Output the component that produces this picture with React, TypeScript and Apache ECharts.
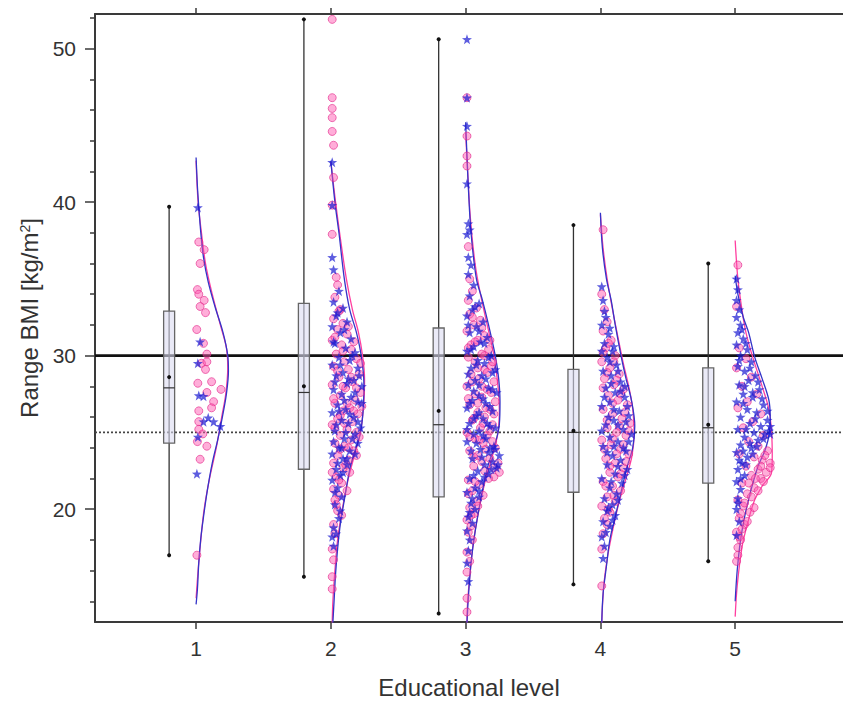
import React, { useEffect, useRef } from 'react';
import * as echarts from 'echarts';

// ---------- DATA ----------
const CATEGORIES = [1, 2, 3, 4, 5];
const X_TICKS = [1, 2, 3, 4, 5];
const Y_MAJOR_TICKS = [20, 30, 40, 50];
const Y_MINOR_TICKS = [14, 16, 18, 22, 24, 26, 28, 32, 34, 36, 38, 42, 44, 46, 48, 52];
const REF_SOLID = 30;
const REF_DOTTED = 25;

// box plot statistics per educational level
const BOX_MIN = [17.0, 15.6, 13.2, 15.1, 16.6];
const BOX_Q1 = [24.3, 22.6, 20.8, 21.1, 21.7];
const BOX_MEDIAN = [27.9, 27.6, 25.5, 25.0, 25.3];
const BOX_Q3 = [32.9, 33.4, 31.8, 29.1, 29.2];
const BOX_MAX = [39.7, 51.9, 50.6, 38.5, 36.0];
const BOX_MEAN = [28.6, 28.0, 26.4, 25.1, 25.5];

// scatter points: [offset from category, BMI range]
const PINK_G1 = [[0.02,37.4],[0.06,36.9],[0.03,36.0],[0.01,34.3],[0.02,34.0],[0.06,33.6],[0.03,33.2],[0.07,32.8],[0.005,31.7],[0.055,30.8],[0.08,30.1],[0.04,29.5],[0.08,29.6],[0.07,29.1],[0.013,28.2],[0.115,28.3],[0.185,27.8],[0.08,27.6],[0.13,27.0],[0.02,26.4],[0.115,26.6],[0.02,25.7],[0.02,25.2],[0.05,24.9],[0.01,24.4],[0.08,24.1],[0.03,23.25],[0.006,17.0]];
const BLUE_G1 = [[0.013,39.65],[0.03,30.9],[0.013,29.5],[0.02,27.4],[0.055,27.35],[0.055,25.7],[0.09,25.95],[0.13,25.7],[0.18,25.4],[0.013,24.7],[0.006,22.3]];

const PINK_G2 = [[0.01,51.9],[0.01,46.8],[0.01,46.1],[0.01,45.5],[0.01,44.6],[0.02,43.7],[0.02,41.6],[0.01,39.8],[0.01,37.9],[0.04,35.1],[0.05,34.6],[0.03,33.8],[0.07,33.0],[0.02,32.4],[0.09,32.1],[0.05,31.7],[0.12,31.4],[0.01,31.0],[0.08,30.7],[0.15,30.4],[0.04,30.1],[0.19,29.8],[0.10,29.6],[0.02,29.3],[0.13,29.1],[0.21,28.8],[0.06,28.6],[0.16,28.3],[0.01,28.1],[0.11,27.9],[0.22,27.6],[0.07,27.4],[0.18,27.1],[0.03,26.9],[0.14,26.6],[0.09,26.4],[0.20,26.2],[0.05,25.9],[0.16,25.7],[0.01,25.5],[0.12,25.2],[0.19,25.0],[0.07,24.8],[0.15,24.5],[0.03,24.3],[0.10,24.1],[0.17,23.8],[0.05,23.5],[0.13,23.2],[0.02,23.0],[0.09,22.7],[0.14,22.4],[0.04,22.1],[0.08,21.7],[0.02,21.3],[0.06,20.9],[0.03,20.6],[0.05,19.9],[0.02,19.0],[0.03,18.4],[0.01,17.4],[0.02,16.7],[0.01,15.6],[0.01,14.8],
  [0.06,32.9],[0.13,31.9],[0.03,31.2],[0.17,30.9],[0.09,30.3],[0.22,29.5],[0.05,29.0],[0.15,28.6],[0.09,28.0],[0.19,27.9],[0.02,27.2],[0.12,26.9],[0.23,26.7],[0.07,26.1],[0.17,26.4],[0.03,25.3],[0.10,25.6],[0.21,24.7],[0.13,24.0],[0.07,23.9],[0.19,23.5],[0.01,22.4],[0.11,22.9],[0.06,21.9],[0.12,21.2],[0.04,20.3],[0.08,19.6]];
const BLUE_G2 = [[0.01,42.6],[0.01,39.8],[0.01,36.4],[0.02,35.6],[0.06,34.2],[0.02,33.5],[0.09,33.1],[0.04,32.6],[0.12,32.2],[0.01,31.9],[0.07,31.5],[0.15,31.1],[0.03,30.8],[0.11,30.5],[0.18,30.2],[0.06,29.9],[0.14,29.7],[0.01,29.4],[0.20,29.2],[0.09,28.9],[0.04,28.7],[0.17,28.4],[0.12,28.2],[0.23,28.0],[0.02,27.8],[0.08,27.5],[0.15,27.3],[0.20,27.0],[0.05,26.8],[0.11,26.5],[0.01,26.3],[0.17,26.0],[0.08,25.8],[0.13,25.6],[0.22,25.3],[0.03,25.1],[0.18,24.9],[0.10,24.6],[0.20,24.3],[0.06,24.0],[0.14,23.8],[0.01,23.6],[0.09,23.3],[0.12,22.9],[0.04,22.6],[0.07,22.2],[0.01,21.9],[0.05,21.4],[0.08,20.8],[0.03,20.3],[0.06,19.4],[0.02,18.8],[0.01,18.2],[0.02,17.6],
  [0.05,32.8],[0.10,31.7],[0.02,30.9],[0.16,30.0],[0.07,29.4],[0.21,28.7],[0.13,28.5],[0.03,28.3],[0.18,27.6],[0.10,27.1],[0.23,26.9],[0.06,26.4],[0.14,26.2],[0.20,25.7],[0.04,25.5],[0.11,25.0],[0.16,24.6],[0.02,24.4],[0.08,24.0],[0.18,23.6],[0.12,23.3],[0.05,23.0],[0.09,22.4],[0.03,21.1],[0.07,19.9],[0.04,18.4]];

const PINK_G3 = [[0.01,46.8],[0.01,44.3],[0.01,43.0],[0.01,42.35],[0.02,37.1],[0.03,35.0],[0.05,34.2],[0.02,33.6],[0.08,33.1],[0.03,32.7],[0.11,32.3],[0.06,32.0],[0.01,31.6],[0.14,31.3],[0.09,31.0],[0.04,30.7],[0.17,30.4],[0.12,30.1],[0.02,29.9],[0.07,29.6],[0.19,29.3],[0.14,29.1],[0.04,28.8],[0.10,28.5],[0.21,28.3],[0.01,28.0],[0.16,27.8],[0.07,27.5],[0.12,27.3],[0.22,27.0],[0.03,26.8],[0.18,26.5],[0.09,26.3],[0.14,26.0],[0.05,25.8],[0.20,25.5],[0.11,25.3],[0.01,25.0],[0.16,24.8],[0.07,24.6],[0.13,24.3],[0.22,24.0],[0.03,23.8],[0.09,23.5],[0.18,23.3],[0.24,23.0],[0.06,22.8],[0.14,22.5],[0.21,22.1],[0.02,21.9],[0.10,21.6],[0.05,21.2],[0.13,20.9],[0.08,20.5],[0.03,20.1],[0.06,19.7],[0.01,19.3],[0.04,18.9],[0.02,18.5],[0.05,18.0],[0.01,17.2],[0.03,16.6],[0.01,15.9],[0.01,14.2],[0.01,13.3],
  [0.05,32.5],[0.12,31.8],[0.18,31.0],[0.07,30.9],[0.02,30.5],[0.14,30.0],[0.20,29.6],[0.09,29.2],[0.16,28.9],[0.05,28.3],[0.12,28.0],[0.19,27.6],[0.02,27.2],[0.09,26.9],[0.15,26.6],[0.21,26.2],[0.06,25.9],[0.13,25.6],[0.18,25.1],[0.03,24.7],[0.10,24.5],[0.20,24.4],[0.15,23.9],[0.06,23.4],[0.12,23.1],[0.21,22.7],[0.17,22.0],[0.25,22.4],[0.07,21.8],[0.02,21.0],[0.09,20.2],[0.04,19.6]];
const BLUE_G3 = [[0.01,50.6],[0.01,46.8],[0.01,44.95],[0.01,41.2],[0.02,38.6],[0.03,38.2],[0.01,37.9],[0.02,36.4],[0.04,35.9],[0.02,35.3],[0.06,34.6],[0.03,33.9],[0.10,33.4],[0.05,33.0],[0.01,32.6],[0.13,32.2],[0.08,31.9],[0.03,31.5],[0.16,31.2],[0.11,30.9],[0.06,30.6],[0.01,30.3],[0.19,30.0],[0.09,29.7],[0.14,29.5],[0.04,29.2],[0.20,28.9],[0.12,28.7],[0.07,28.4],[0.02,28.1],[0.17,27.9],[0.23,27.6],[0.10,27.4],[0.05,27.1],[0.15,26.9],[0.01,26.6],[0.20,26.4],[0.08,26.1],[0.13,25.9],[0.03,25.6],[0.18,25.4],[0.10,25.1],[0.06,24.9],[0.15,24.6],[0.01,24.4],[0.21,24.1],[0.11,23.9],[0.17,23.7],[0.25,23.5],[0.05,23.3],[0.20,23.1],[0.14,22.9],[0.23,22.7],[0.09,22.5],[0.17,22.3],[0.03,22.0],[0.12,21.8],[0.07,21.4],[0.01,21.1],[0.10,20.8],[0.04,20.4],[0.07,20.0],[0.02,19.5],[0.05,19.1],[0.01,18.6],[0.03,18.0],[0.02,17.3],[0.01,16.5],[0.02,15.3],
  [0.07,33.2],[0.02,32.0],[0.10,31.6],[0.14,30.8],[0.04,30.4],[0.17,29.9],[0.08,29.4],[0.22,29.1],[0.02,28.8],[0.15,28.5],[0.10,28.1],[0.20,27.8],[0.06,27.7],[0.13,27.2],[0.03,26.9],[0.18,26.7],[0.10,26.3],[0.06,25.9],[0.16,25.6],[0.22,25.3],[0.01,25.2],[0.13,24.8],[0.08,24.3],[0.18,24.0],[0.04,23.8],[0.22,23.9],[0.12,23.4],[0.24,22.9],[0.19,22.6],[0.06,22.2],[0.14,22.1],[0.10,21.2],[0.05,20.7],[0.03,19.8]];

const PINK_G4 = [[0.02,38.2],[0.01,34.0],[0.03,33.0],[0.05,32.2],[0.02,31.6],[0.08,31.0],[0.04,30.5],[0.11,30.0],[0.01,29.6],[0.07,29.2],[0.14,28.8],[0.03,28.5],[0.10,28.1],[0.17,27.8],[0.06,27.4],[0.13,27.1],[0.20,26.8],[0.02,26.5],[0.09,26.2],[0.16,25.9],[0.22,25.6],[0.05,25.3],[0.12,25.0],[0.19,24.8],[0.01,24.5],[0.08,24.2],[0.15,23.9],[0.21,23.6],[0.04,23.3],[0.11,23.0],[0.17,22.7],[0.07,22.4],[0.13,22.1],[0.02,21.8],[0.09,21.5],[0.15,21.2],[0.05,20.8],[0.11,20.5],[0.01,20.2],[0.07,19.8],[0.03,19.4],[0.05,19.0],[0.02,18.4],[0.01,17.4],[0.01,15.0],
  [0.06,30.8],[0.02,30.2],[0.10,29.6],[0.05,28.9],[0.12,28.4],[0.02,27.9],[0.15,27.5],[0.09,26.9],[0.18,26.3],[0.05,25.8],[0.14,25.4],[0.21,25.1],[0.09,24.6],[0.17,24.2],[0.03,23.9],[0.12,23.6],[0.19,23.1],[0.07,22.8],[0.15,22.3],[0.04,21.5],[0.10,20.9],[0.06,20.0]];
const BLUE_G4 = [[0.01,34.5],[0.02,33.6],[0.04,32.5],[0.01,32.0],[0.06,31.4],[0.03,30.8],[0.09,30.3],[0.05,29.9],[0.12,29.4],[0.02,29.0],[0.08,28.7],[0.15,28.3],[0.04,27.9],[0.11,27.6],[0.18,27.3],[0.07,27.0],[0.01,26.7],[0.14,26.4],[0.21,26.1],[0.10,25.8],[0.04,25.5],[0.17,25.2],[0.23,24.9],[0.07,24.7],[0.13,24.4],[0.02,24.1],[0.19,23.8],[0.09,23.5],[0.15,23.2],[0.05,22.9],[0.20,22.6],[0.11,22.3],[0.01,22.0],[0.16,21.7],[0.07,21.4],[0.12,21.0],[0.03,20.7],[0.09,20.3],[0.05,19.9],[0.11,19.6],[0.02,19.2],[0.07,18.9],[0.04,18.5],[0.01,18.2],[0.03,17.6],[0.02,16.8],
  [0.03,32.9],[0.07,31.8],[0.10,30.6],[0.01,30.3],[0.07,29.6],[0.13,29.0],[0.18,28.0],[0.08,28.2],[0.15,27.7],[0.03,27.3],[0.20,26.7],[0.10,26.5],[0.06,26.0],[0.19,25.7],[0.13,25.5],[0.01,25.1],[0.21,24.4],[0.10,24.1],[0.17,24.0],[0.05,23.7],[0.13,22.8],[0.18,22.2],[0.08,21.8],[0.13,20.6],[0.06,20.1],[0.09,19.3]];

const PINK_G5 = [[0.02,35.9],[0.01,33.2],[0.03,30.5],[0.08,29.8],[0.01,29.2],[0.12,28.6],[0.05,28.0],[0.16,27.5],[0.09,27.0],[0.02,26.6],[0.19,26.2],[0.13,25.7],[0.06,25.3],[0.21,24.8],[0.10,24.4],[0.17,24.1],[0.24,23.8],[0.03,23.6],[0.14,23.4],[0.20,23.2],[0.26,23.0],[0.08,22.8],[0.17,22.6],[0.23,22.4],[0.12,22.2],[0.19,22.0],[0.05,21.7],[0.14,21.4],[0.09,21.0],[0.02,20.6],[0.06,20.2],[0.11,19.8],[0.03,19.4],[0.07,19.0],[0.01,18.5],[0.04,18.0],[0.02,17.5],[0.02,17.0],[0.01,16.6],
  [0.22,23.5],[0.19,22.8],[0.26,22.7],[0.15,22.0],[0.21,21.8],[0.10,21.7],[0.17,21.2],[0.12,20.8],[0.07,20.4],[0.14,20.1],[0.04,19.7],[0.09,19.2],[0.05,18.7],[0.03,18.2]];
const BLUE_G5 = [[0.01,35.0],[0.02,34.3],[0.01,33.6],[0.03,33.0],[0.01,32.5],[0.04,32.0],[0.02,31.5],[0.06,31.1],[0.01,30.7],[0.09,30.4],[0.04,30.0],[0.12,29.6],[0.02,29.3],[0.07,29.0],[0.15,28.7],[0.10,28.4],[0.03,28.1],[0.18,27.8],[0.06,27.5],[0.13,27.3],[0.01,27.0],[0.21,26.8],[0.09,26.5],[0.16,26.3],[0.04,26.0],[0.24,25.8],[0.11,25.6],[0.19,25.4],[0.25,25.1],[0.02,25.2],[0.14,25.0],[0.22,24.9],[0.07,24.7],[0.17,24.5],[0.04,24.2],[0.12,24.0],[0.01,23.7],[0.09,23.4],[0.05,23.0],[0.02,22.6],[0.07,22.2],[0.01,21.8],[0.04,21.3],[0.02,20.7],[0.01,20.0],[0.03,19.2],[0.01,18.3],
  [0.05,31.7],[0.08,30.8],[0.03,29.7],[0.11,29.2],[0.17,28.3],[0.07,28.0],[0.13,27.6],[0.20,27.2],[0.06,26.9],[0.24,26.4],[0.15,25.9],[0.26,25.4],[0.08,25.2],[0.21,24.6],[0.26,24.9],[0.11,24.3],[0.16,24.1],[0.06,23.8],[0.13,23.6],[0.03,23.2],[0.08,22.9],[0.04,22.0],[0.02,20.4]];

// fitted density curves: [BMI range, width from category]
const BLUE_CURVE_G1 = [[42.9,0],[41,0.01],[39.7,0.02],[38,0.035],[36.4,0.055],[34.8,0.09],[33.2,0.14],[31.5,0.2],[30,0.235],[29,0.24],[27.5,0.225],[26,0.195],[24.5,0.16],[23,0.12],[21.3,0.085],[19.5,0.055],[18.1,0.035],[16.5,0.02],[14.8,0.01],[13.8,0]];
const PINK_CURVE_G1 = [[42.7,0],[40,0.015],[38,0.04],[36,0.07],[34,0.12],[32,0.18],[30.5,0.225],[29.2,0.235],[27.5,0.22],[26,0.19],[24,0.15],[22,0.1],[20,0.06],[18,0.035],[16,0.015],[14.2,0]];
const BLUE_CURVE_G2 = [[42.7,0],[40,0.03],[38,0.06],[35,0.1],[33,0.14],[31.5,0.19],[30,0.225],[28.2,0.245],[26.5,0.24],[25,0.22],[23.8,0.18],[22.8,0.145],[20.6,0.1],[19,0.07],[17.4,0.05],[15.8,0.035],[14.2,0.025],[12.6,0.015]];
const PINK_CURVE_G2 = [[42.6,0],[40,0.035],[38,0.065],[35,0.115],[33,0.16],[31.5,0.205],[30,0.235],[28.5,0.25],[27,0.245],[25,0.22],[23.5,0.175],[22,0.13],[20,0.085],[18,0.05],[16,0.03],[14,0.015],[12.6,0.01]];
const BLUE_CURVE_G3 = [[45.2,0],[43,0.01],[41,0.02],[38,0.04],[35,0.08],[33.6,0.125],[32,0.17],[30,0.22],[28.5,0.245],[27,0.255],[25.5,0.25],[24,0.21],[22.8,0.165],[21,0.12],[18.5,0.07],[16.5,0.04],[14.2,0.02],[12.6,0.01]];
const PINK_CURVE_G3 = [[44.5,0],[42,0.015],[39,0.035],[36,0.07],[34,0.11],[32,0.16],[30,0.21],[28,0.24],[26.5,0.25],[25,0.24],[23.5,0.2],[22,0.15],[20,0.1],[18,0.06],[16,0.035],[14,0.015],[12.6,0.01]];
const BLUE_CURVE_G4 = [[39.3,0],[37,0.015],[35,0.045],[33.6,0.08],[32,0.11],[29.9,0.155],[28.5,0.19],[27.1,0.23],[25.4,0.255],[24,0.24],[22.8,0.2],[21,0.15],[19.5,0.11],[18,0.07],[16.3,0.045],[14.5,0.02],[12.6,0.01]];
const PINK_CURVE_G4 = [[39.2,0],[37,0.02],[35,0.05],[33,0.09],[31,0.135],[29.5,0.17],[28,0.21],[26.5,0.24],[25,0.25],[23.5,0.235],[22,0.19],[20.5,0.14],[19,0.1],[17,0.055],[15,0.025],[12.6,0.01]];
const BLUE_CURVE_G5 = [[35.2,0],[34,0.02],[32.5,0.06],[31.5,0.1],[29.9,0.145],[28.5,0.2],[27.1,0.25],[26,0.26],[25,0.255],[23.8,0.22],[22.8,0.17],[21,0.11],[19.5,0.07],[18,0.04],[16,0.015],[14,0]];
const PINK_CURVE_G5 = [[37.5,0],[35,0.02],[33,0.05],[31.5,0.08],[29.9,0.13],[28,0.2],[26.5,0.25],[25,0.27],[23.5,0.275],[22.4,0.27],[21.5,0.2],[20.5,0.14],[19,0.09],[17.5,0.05],[15,0.015],[13,0]];

const PINK_POINTS = [PINK_G1, PINK_G2, PINK_G3, PINK_G4, PINK_G5];
const BLUE_POINTS = [BLUE_G1, BLUE_G2, BLUE_G3, BLUE_G4, BLUE_G5];
const PINK_CURVES = [PINK_CURVE_G1, PINK_CURVE_G2, PINK_CURVE_G3, PINK_CURVE_G4, PINK_CURVE_G5];
const BLUE_CURVES = [BLUE_CURVE_G1, BLUE_CURVE_G2, BLUE_CURVE_G3, BLUE_CURVE_G4, BLUE_CURVE_G5];

// ---------- STYLE ----------
const FONT = '"Liberation Sans", Arial, Helvetica, sans-serif';
const X_MIN = 0.25;
const X_MAX = 5.8;
const Y_MIN = 12.65;
const Y_MAX = 52.25;
const BOX_OFFSET = -0.2;
const BOX_HALF = 5.5;
const PINK = '#ff3fa0';
const STAR = 'path://M0,-10 L2.35,-3.24 L9.51,-3.09 L3.8,1.24 L5.88,8.09 L0,4 L-5.88,8.09 L-3.8,1.24 L-9.51,-3.09 L-2.35,-3.24 Z';

function buildOption() {
  const series: any[] = [];

  series.push({
    type: 'line', name: 'ref30', data: [[X_MIN, REF_SOLID], [X_MAX, REF_SOLID]],
    symbol: 'none', lineStyle: { color: '#111', width: 2.6 }, z: 1, silent: true,
  });
  series.push({
    type: 'line', name: 'ref25', data: [[X_MIN, REF_DOTTED], [X_MAX, REF_DOTTED]],
    symbol: 'none', lineStyle: { color: '#444', width: 1.6, type: [2, 2] }, z: 1, silent: true,
  });

  CATEGORIES.forEach((c, i) => {
    series.push({
      type: 'line', data: PINK_CURVES[i].map(([v, d]) => [c + d, v]),
      symbol: 'none', smooth: 0.35, lineStyle: { color: PINK, width: 1.3 }, z: 2, silent: true,
    });
    series.push({
      type: 'line', data: BLUE_CURVES[i].map(([v, d]) => [c + d, v]),
      symbol: 'none', smooth: 0.35, lineStyle: { color: '#3434c8', width: 1.3 }, z: 2, silent: true,
    });
  });

  series.push({
    type: 'scatter', name: 'female',
    data: CATEGORIES.flatMap((c, i) => PINK_POINTS[i].map(([d, v]) => [c + d, v])),
    symbol: 'circle', symbolSize: 8,
    itemStyle: { color: 'rgba(255,85,175,0.6)', borderColor: 'rgba(225,35,135,0.85)', borderWidth: 0.9 },
    z: 3,
  });
  series.push({
    type: 'scatter', name: 'male',
    data: CATEGORIES.flatMap((c, i) => BLUE_POINTS[i].map(([d, v]) => [c + d, v])),
    symbol: STAR, symbolSize: 10,
    itemStyle: { color: 'rgba(25,25,210,0.88)' },
    z: 4,
  });

  series.push({
    type: 'custom', name: 'box',
    data: CATEGORIES.map((c, i) => [c + BOX_OFFSET, BOX_MIN[i], BOX_Q1[i], BOX_MEDIAN[i], BOX_Q3[i], BOX_MAX[i], BOX_MEAN[i]]),
    encode: { x: 0, y: [1, 5] },
    z: 5,
    renderItem: (params: any, api: any) => {
      const x = api.value(0);
      const p = (k: number) => api.coord([x, api.value(k)]);
      const [cx, yMin] = p(1);
      const yQ1 = p(2)[1];
      const yMed = p(3)[1];
      const yQ3 = p(4)[1];
      const yMax = p(5)[1];
      const yMean = p(6)[1];
      return {
        type: 'group',
        children: [
          { type: 'line', shape: { x1: cx, y1: yMin, x2: cx, y2: yMax }, style: { stroke: '#333', lineWidth: 1.3 } },
          { type: 'rect', shape: { x: cx - BOX_HALF, y: yQ3, width: BOX_HALF * 2, height: yQ1 - yQ3 },
            style: { fill: 'rgba(220,220,242,0.6)', stroke: '#666', lineWidth: 1.3 } },
          { type: 'line', shape: { x1: cx - BOX_HALF, y1: yMed, x2: cx + BOX_HALF, y2: yMed }, style: { stroke: '#333', lineWidth: 1.2 } },
          { type: 'circle', shape: { cx, cy: yMin, r: 2 }, style: { fill: '#111' } },
          { type: 'circle', shape: { cx, cy: yMax, r: 2 }, style: { fill: '#111' } },
          { type: 'circle', shape: { cx, cy: yMean, r: 2 }, style: { fill: '#111' } },
        ],
      };
    },
  });

  const axisLine = { show: true, onZero: false, lineStyle: { color: '#3a3a3a', width: 2 } };

  return {
    animation: false,
    backgroundColor: '#fff',
    grid: { left: 95, top: 14, width: 758, height: 608 },
    xAxis: [
      {
        type: 'value', position: 'bottom', min: X_MIN, max: X_MAX,
        axisLine,
        axisTick: { show: true, inside: false, length: 7, customValues: X_TICKS, lineStyle: { color: '#3a3a3a', width: 1.5 } },
        axisLabel: { customValues: X_TICKS, fontSize: 21, color: '#333', fontFamily: FONT, margin: 16 },
        splitLine: { show: false },
        name: 'Educational level', nameLocation: 'middle', nameGap: 53,
        nameTextStyle: { fontSize: 24, color: '#333', fontFamily: FONT },
      },
      {
        type: 'value', position: 'top', min: X_MIN, max: X_MAX,
        axisLine,
        axisTick: { show: true, inside: false, length: 6, customValues: X_TICKS, lineStyle: { color: '#3a3a3a', width: 1.5 } },
        axisLabel: { show: false },
        splitLine: { show: false },
      },
    ],
    yAxis: [
      {
        type: 'value', position: 'left', min: Y_MIN, max: Y_MAX,
        axisLine,
        axisTick: { show: true, inside: false, length: 10, customValues: Y_MAJOR_TICKS, lineStyle: { color: '#3a3a3a', width: 1.5 } },
        axisLabel: { customValues: Y_MAJOR_TICKS, fontSize: 21, color: '#333', fontFamily: FONT, margin: 19 },
        splitLine: { show: false },
        name: 'Range BMI [kg/m{sup|2}]', nameLocation: 'middle', nameGap: 52,
        nameTextStyle: {
          fontSize: 24, color: '#333', fontFamily: FONT,
          rich: { sup: { fontSize: 14, verticalAlign: 'top', color: '#333', fontFamily: FONT } },
        },
      },
      {
        type: 'value', position: 'left', min: Y_MIN, max: Y_MAX,
        axisLine: { show: false, onZero: false },
        axisTick: { show: true, inside: false, length: 5, customValues: Y_MINOR_TICKS, lineStyle: { color: '#3a3a3a', width: 1.5 } },
        axisLabel: { show: false },
        splitLine: { show: false },
      },
    ],
    series,
  };
}

export default function App() {
  const ref = useRef<HTMLDivElement>(null);
  useEffect(() => {
    const chart = echarts.init(ref.current!, null, { renderer: 'svg' });
    chart.setOption(buildOption());
    return () => chart.dispose();
  }, []);
  return (
    <div
      ref={ref}
      style={{ position: 'fixed', left: 0, top: 0, width: 843, height: 705, background: '#fff' }}
    />
  );
}
